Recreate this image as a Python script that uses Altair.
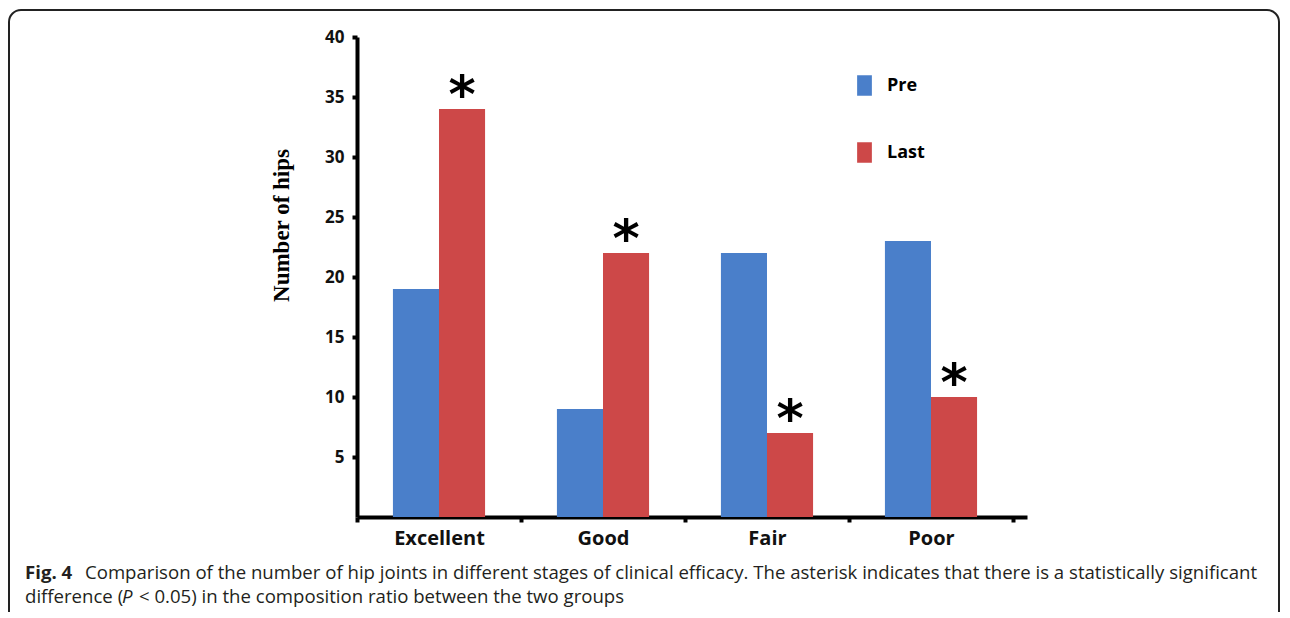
import altair as alt
import pandas as pd

categories = ["Excellent", "Good", "Fair", "Poor"]
groups = ["Pre", "Last"]
pre_values = [19, 9, 22, 23]
last_values = [34, 22, 7, 10]
significant = [True, True, True, True]
y_ticks = [5, 10, 15, 20, 25, 30, 35, 40]
colors = ["#4a7fca", "#cd4848"]

y_title = "Number of hips"
cap_bold = "Fig. 4"
cap_line1 = ("Comparison of the number of hip joints in different stages of clinical efficacy. "
             "The asterisk indicates that there is a statistically significant")
cap_line2a = "difference ("
cap_line2b = "P"
cap_line2c = "< 0.05) in the composition ratio between the two groups"

rows = []
for i, c in enumerate(categories):
    rows.append({"stage": c, "group": "Pre", "hips": pre_values[i], "sig": False})
    rows.append({"stage": c, "group": "Last", "hips": last_values[i], "sig": significant[i]})
df = pd.DataFrame(rows)

W, H = 670, 480
PL, PT = 349, 29
PR = 1274 - PL - W
PB = 604 - PT - H

LABEL_FONT = "Open Sans"

x_enc = alt.X(
    "stage:N", sort=categories,
    scale=alt.Scale(domain=categories, paddingInner=0, paddingOuter=0.0427, align=0),
    axis=alt.Axis(title=None, labelFont=LABEL_FONT, labelFontWeight="bold", labelFontSize=20,
                  labelColor="#111", labelPadding=6, labelAngle=0,
                  domainColor="#000", domainWidth=4, tickColor="#000", tickWidth=4, tickSize=5,
                  tickBand="extent", grid=False),
)
xo_enc = alt.XOffset("group:N", sort=groups,
                     scale=alt.Scale(domain=groups, paddingInner=0, paddingOuter=0.78))
y_enc = alt.Y(
    "hips:Q",
    scale=alt.Scale(domain=[0, 40], nice=False),
    axis=alt.Axis(title=y_title, values=y_ticks, labelFont=LABEL_FONT, labelFontWeight="bold",
                  labelFontSize=17, labelColor="#111", labelPadding=8,
                  domainColor="#000", domainWidth=4, tickColor="#000", tickWidth=4, tickSize=5,
                  grid=False, titleFont="Liberation Serif", titleFontWeight="bold",
                  titleFontSize=23, titleColor="#000", titleAngle=270, titleX=-76, titleY=188,
                  titleAlign="center", titleBaseline="middle"),
)
color_enc = alt.Color(
    "group:N", sort=groups,
    scale=alt.Scale(domain=groups, range=colors),
    legend=alt.Legend(title=None, orient="none", legendX=497, legendY=38, padding=0,
                      symbolType="M-0.72,-1H0.72V1H-0.72Z", symbolSize=420,
                      symbolStrokeWidth=0, symbolOpacity=1, labelOffset=12,
                      rowPadding=46, labelFont=LABEL_FONT, labelFontWeight="bold",
                      labelFontSize=18, labelColor="#000", labelBaseline="middle"),
)

bars = alt.Chart(df).mark_bar().encode(
    x=x_enc, xOffset=xo_enc, y=y_enc, color=color_enc
)

stars = alt.Chart(df).transform_filter("datum.sig").mark_text(
    text="*", font="DejaVu Sans", fontWeight="bold", fontSize=52, color="#000",
    baseline="alphabetic", dy=3
).encode(x=alt.X("stage:N", sort=categories), xOffset=alt.XOffset("group:N", sort=groups),
         y=alt.Y("hips:Q"))

one = alt.Data(values=[{"k": 1}])

frame = alt.Chart(one).mark_rect(
    fill="#ffffff", fillOpacity=0, stroke="#222", strokeWidth=2, cornerRadius=12
).encode(x=alt.value(-348), x2=alt.value(922), y=alt.value(-27), y2=alt.value(640))

CAP_COLOR = "#231f20"
CAP_SIZE = 18.6
cap1b = alt.Chart(one).mark_text(text=cap_bold, font=LABEL_FONT, fontWeight="bold",
                                 fontSize=CAP_SIZE, color=CAP_COLOR, align="left",
                                 baseline="alphabetic").encode(x=alt.value(-332), y=alt.value(542))
cap1 = alt.Chart(one).mark_text(text=cap_line1, font=LABEL_FONT, fontSize=CAP_SIZE,
                                color=CAP_COLOR, align="left",
                                baseline="alphabetic").encode(x=alt.value(-272), y=alt.value(542))
cap2a = alt.Chart(one).mark_text(text=cap_line2a, font=LABEL_FONT, fontSize=CAP_SIZE,
                                 color=CAP_COLOR, align="left",
                                 baseline="alphabetic").encode(x=alt.value(-332), y=alt.value(566))
cap2b = alt.Chart(one).mark_text(text=cap_line2b, font=LABEL_FONT, fontSize=CAP_SIZE,
                                 fontStyle="italic", color=CAP_COLOR, align="left",
                                 baseline="alphabetic").encode(x=alt.value(-235), y=alt.value(566))
cap2c = alt.Chart(one).mark_text(text=cap_line2c, font=LABEL_FONT, fontSize=CAP_SIZE,
                                 color=CAP_COLOR, align="left",
                                 baseline="alphabetic").encode(x=alt.value(-218), y=alt.value(566))

chart = alt.layer(frame, bars, stars, cap1b, cap1, cap2a, cap2b, cap2c).properties(
    width=W, height=H,
    autosize=alt.AutoSizeParams(type="none"),
    padding={"left": PL, "top": PT, "right": PR, "bottom": PB},
    background="#ffffff",
).configure_view(stroke=None)

chart.save("out.html", embed_options={"renderer": "svg", "actions": False})
